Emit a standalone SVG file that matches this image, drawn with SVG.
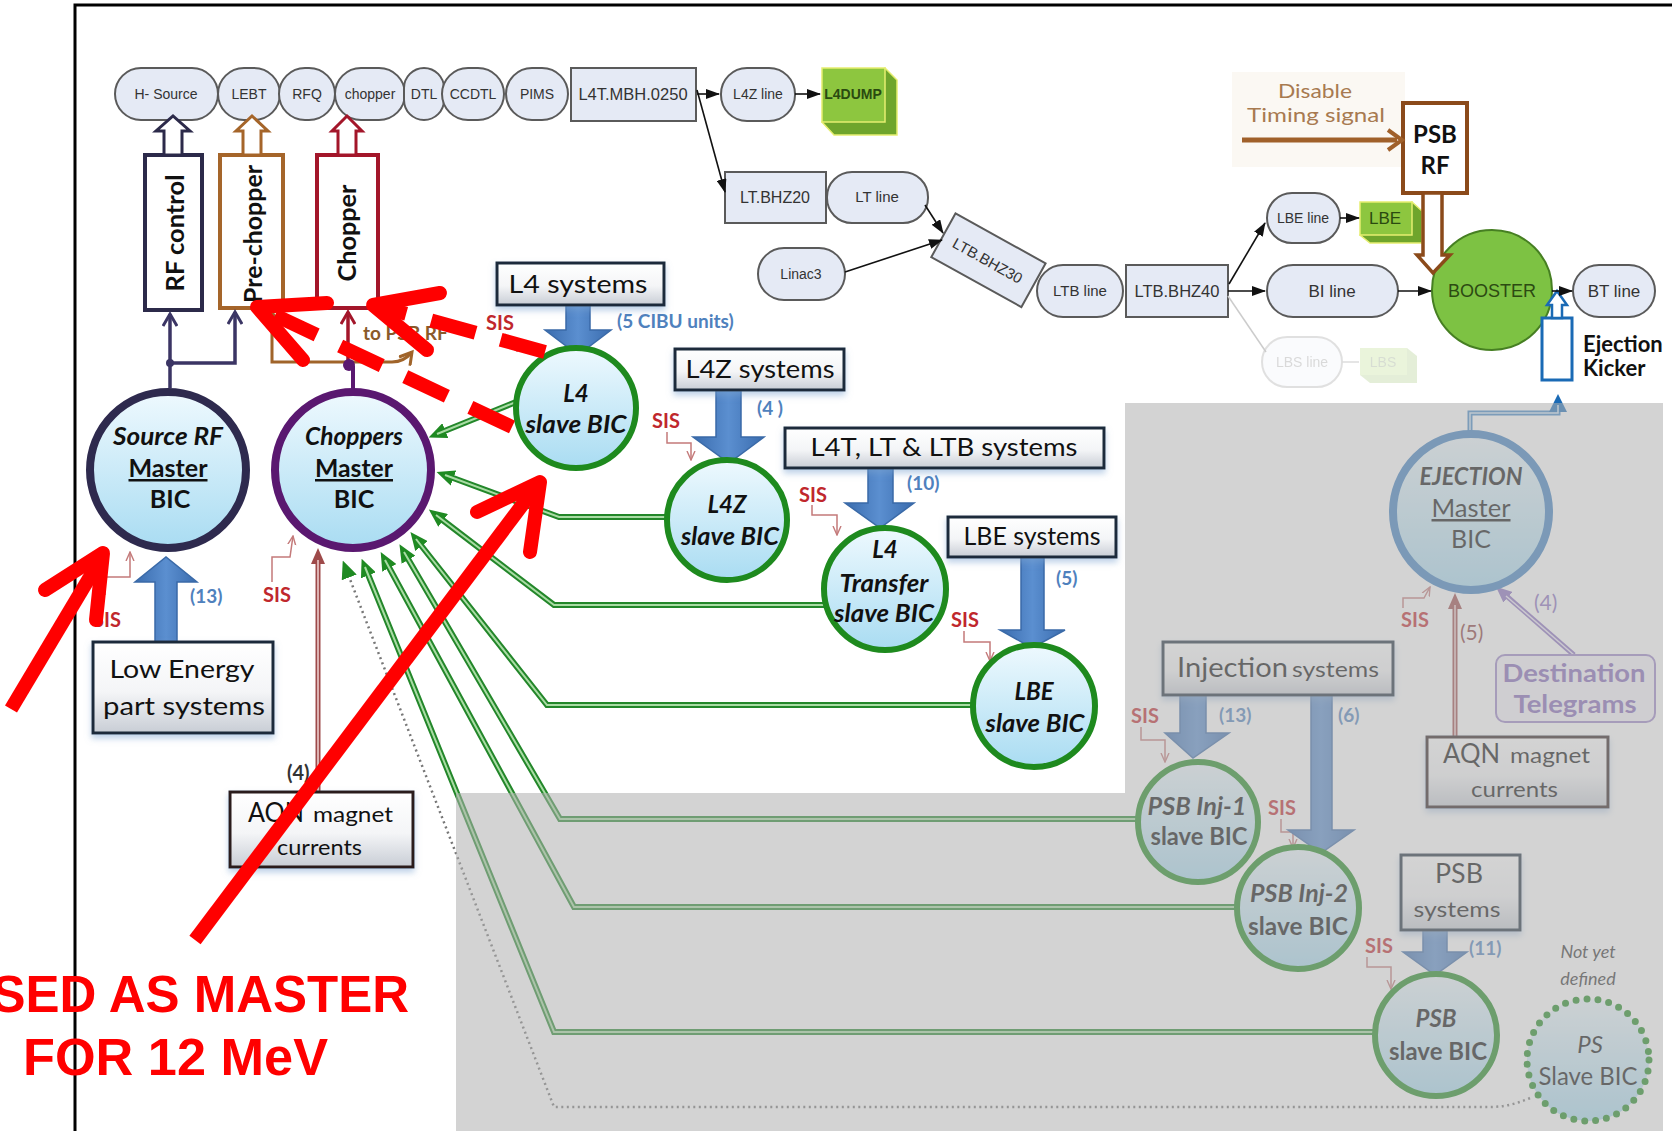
<svg xmlns="http://www.w3.org/2000/svg" width="1672" height="1131" viewBox="0 0 1672 1131">
<defs>
<style>
.pill{fill:#e5eaf5;stroke:#5a5a5a;stroke-width:2}
.top{font-family:"Liberation Sans",Arial,sans-serif;font-size:14px;fill:#333;text-anchor:middle}
.t{font-family:Lato,"Open Sans","Liberation Sans",sans-serif}
.sys{font-family:Lato,"Open Sans",sans-serif;font-size:25px;fill:#111;text-anchor:middle}
.box{fill:url(#gBox);stroke:#1b2a3a;stroke-width:3;filter:url(#sh)}
.bic{font-family:Lato,"Open Sans",sans-serif;font-weight:bold;font-style:italic;font-size:24px;fill:#111;text-anchor:middle}
.bicu{font-family:Lato,"Open Sans",sans-serif;font-weight:bold;font-size:25px;fill:#111;text-anchor:middle}
.slave{fill:url(#gBic);stroke:#1e8a1e;stroke-width:6}
.sis{font-family:Lato,"Open Sans",sans-serif;font-weight:bold;font-size:20px;fill:#c0272d}
.sisl{fill:none;stroke:#c47a7a;stroke-width:1.5;marker-end:url(#mSis)}
.num{font-family:Lato,"Open Sans",sans-serif;font-weight:bold;font-size:19px;fill:#4f81bd}
.bar{fill:url(#gBlue);stroke:#3a6aa8;stroke-width:1.5}
.g1{fill:none;stroke:#23872a;stroke-width:6;marker-end:url(#mGrn)}
.g2{fill:none;stroke:#a9dca4;stroke-width:2}
.blk{fill:none;stroke:#111;stroke-width:1.6;marker-end:url(#mBlk)}
.red{fill:none;stroke:#ff0000;stroke-width:14}
.redh{fill:none;stroke:#ff0000;stroke-width:14;stroke-linecap:round;stroke-linejoin:round}
</style>
<linearGradient id="gBic" x1="0" y1="0" x2="0" y2="1"><stop offset="0" stop-color="#eef9fe"/><stop offset="1" stop-color="#a9dcf2"/></linearGradient>
<linearGradient id="gBox" x1="0" y1="0" x2="0" y2="1"><stop offset="0" stop-color="#ffffff"/><stop offset="0.55" stop-color="#f4f5f7"/><stop offset="1" stop-color="#c8cdd5"/></linearGradient>
<linearGradient id="gBlue" x1="0" y1="0" x2="1" y2="0"><stop offset="0" stop-color="#3a6cae"/><stop offset="0.5" stop-color="#5b8fd0"/><stop offset="1" stop-color="#3a6cae"/></linearGradient>
<filter id="sh" x="-10%" y="-20%" width="120%" height="160%"><feDropShadow dx="0" dy="4" stdDeviation="3" flood-color="#7da3d0" flood-opacity="0.5"/></filter>
<marker id="mBlk" markerUnits="userSpaceOnUse" markerWidth="14" markerHeight="10" refX="13" refY="5" orient="auto"><path d="M0,0 L14,5 L0,10 z" fill="#111"/></marker>
<marker id="mGrn" markerUnits="userSpaceOnUse" markerWidth="18" markerHeight="16" refX="9" refY="8" orient="auto"><path d="M0,0 L18,8 L0,16 z" fill="#1f8a22"/></marker>
<marker id="mSis" markerUnits="userSpaceOnUse" markerWidth="10" markerHeight="10" refX="9" refY="5" orient="auto"><path d="M0,1 L9,5 L0,9" fill="none" stroke="#c47a7a" stroke-width="1.4"/></marker>
<marker id="mNavy" markerUnits="userSpaceOnUse" markerWidth="16" markerHeight="16" refX="13" refY="8" orient="auto"><path d="M1,1 L13,8 L1,15" fill="none" stroke="#3b3564" stroke-width="3"/></marker>
<marker id="mRed" markerUnits="userSpaceOnUse" markerWidth="16" markerHeight="16" refX="13" refY="8" orient="auto"><path d="M1,1 L13,8 L1,15" fill="none" stroke="#a3162a" stroke-width="3"/></marker>
<marker id="mBrn" markerUnits="userSpaceOnUse" markerWidth="16" markerHeight="16" refX="13" refY="8" orient="auto"><path d="M1,1 L13,8 L1,15" fill="none" stroke="#a0642a" stroke-width="3"/></marker>
<marker id="mPnk" markerUnits="userSpaceOnUse" markerWidth="16" markerHeight="14" refX="8" refY="7" orient="auto"><path d="M0,0 L16,7 L0,14 z" fill="#9e4a4a"/></marker>
<marker id="mPur" markerUnits="userSpaceOnUse" markerWidth="16" markerHeight="14" refX="8" refY="7" orient="auto"><path d="M0,0 L16,7 L0,14 z" fill="#8a70c0"/></marker>
<marker id="mBlu" markerUnits="userSpaceOnUse" markerWidth="18" markerHeight="18" refX="9" refY="9" orient="auto"><path d="M0,0 L18,9 L0,18 z" fill="#1a6ab5"/></marker>
</defs>

<rect x="0" y="0" width="1672" height="1131" fill="#ffffff"/>
<path d="M75,1131 V5 H1672" fill="none" stroke="#000" stroke-width="3"/>

<!-- top beamline -->
<g id="n-hsource"><rect class="pill" x="115" y="68" width="103" height="52" rx="26"/><text class="top" x="166" y="99">H- Source</text></g>
<g id="n-lebt"><rect class="pill" x="218" y="68" width="62" height="52" rx="26"/><text class="top" x="249" y="99">LEBT</text></g>
<g id="n-rfq"><rect class="pill" x="279" y="68" width="56" height="52" rx="26"/><text class="top" x="307" y="99">RFQ</text></g>
<g id="n-chopper"><rect class="pill" x="335" y="68" width="70" height="52" rx="26"/><text class="top" x="370" y="99">chopper</text></g>
<g id="n-dtl"><rect class="pill" x="404" y="68" width="40" height="52" rx="20"/><text class="top" x="424" y="99">DTL</text></g>
<g id="n-ccdtl"><rect class="pill" x="442" y="68" width="62" height="52" rx="26"/><text class="top" x="473" y="99">CCDTL</text></g>
<g id="n-pims"><rect class="pill" x="506" y="68" width="62" height="52" rx="26"/><text class="top" x="537" y="99">PIMS</text></g>
<g id="n-l4tmbh"><rect class="pill" x="571" y="68" width="125" height="53" rx="0"/><text class="top" x="633" y="100" style="font-size:16.5px">L4T.MBH.0250</text></g>
<g id="n-l4zline"><rect class="pill" x="721" y="68" width="74" height="53" rx="26"/><text class="top" x="758" y="99">L4Z line</text></g>
<g id="n-l4dump"><path d="M885,68 L897,80 L897,135 L834,135 L822,122 Z" fill="#6fa52c" stroke="#e6ee70" stroke-width="1.5"/><rect x="822" y="68" width="63" height="54" fill="#8dc63f" stroke="#e6ee70" stroke-width="1.5"/><text class="top" x="853" y="99" style="font-weight:bold;fill:#2a4a10">L4DUMP</text></g>
<g id="n-ltbhz20"><rect class="pill" x="725" y="172" width="101" height="51" rx="0"/><text class="top" x="775" y="203" style="font-size:16px">LT.BHZ20</text></g>
<g id="n-ltline"><rect class="pill" x="827" y="172" width="101" height="51" rx="25"/><text class="top" x="877" y="202" style="font-size:15px">LT line</text></g>
<g id="n-linac3"><rect class="pill" x="758" y="248" width="87" height="52" rx="26"/><text class="top" x="801" y="279">Linac3</text></g>
<g id="n-ltbbhz30" transform="translate(988,260) rotate(29)"><rect class="pill" x="-51" y="-25" width="103" height="50" rx="0"/><text class="top" x="0" y="6" style="font-size:15px">LTB.BHZ30</text></g>
<g id="n-ltbline"><rect class="pill" x="1037" y="265" width="86" height="52" rx="26"/><text class="top" x="1080" y="296" style="font-size:15px">LTB line</text></g>
<g id="n-ltbbhz40"><rect class="pill" x="1126" y="265" width="102" height="52" rx="0"/><text class="top" x="1177" y="297" style="font-size:16.5px">LTB.BHZ40</text></g>
<g id="n-lbeline"><rect class="pill" x="1267" y="193" width="73" height="50" rx="25"/><text class="top" x="1303" y="223">LBE line</text></g>
<g id="n-lbe"><path d="M1412,202 L1422,211 L1422,243 L1370,243 L1360,235 Z" fill="#6fa52c" stroke="#e6ee70" stroke-width="1.5"/><rect x="1360" y="202" width="52" height="33" fill="#8dc63f" stroke="#e6ee70" stroke-width="1.5"/><text class="top" x="1385" y="224" style="font-size:17px;fill:#2a4a10">LBE</text></g>
<g id="n-biline"><rect class="pill" x="1267" y="265" width="131" height="52" rx="26"/><text class="top" x="1332" y="297" style="font-size:17px">BI line</text></g>
<g id="n-lbs" opacity="0.18"><rect class="pill" x="1262" y="337" width="80" height="50" rx="25"/><text class="top" x="1302" y="367">LBS line</text><path d="M1407,348 L1417,356 L1417,383 L1370,383 L1360,375 Z" fill="#6fa52c"/><rect x="1360" y="348" width="47" height="27" fill="#8dc63f"/><text class="top" x="1383" y="367" style="fill:#2a4a10">LBS</text></g>
<g id="n-booster"><circle cx="1492" cy="290" r="60" fill="#7dc243" stroke="#467f22" stroke-width="2"/><text class="top" x="1492" y="297" style="font-size:18px;fill:#2c4a12">BOOSTER</text></g>
<g id="n-btline"><rect class="pill" x="1573" y="265" width="82" height="52" rx="26"/><text class="top" x="1614" y="297" style="font-size:17px">BT line</text></g>

<!-- disable timing, PSB RF, ejection kicker -->
<g id="n-disable"><rect x="1232" y="72" width="173" height="95" fill="#fbf8f3"/><text class="t" x="1315" y="98" text-anchor="middle" font-size="20" fill="#a87a50" textLength="74" lengthAdjust="spacingAndGlyphs">Disable</text><text class="t" x="1316" y="122" text-anchor="middle" font-size="20" fill="#a87a50" textLength="138" lengthAdjust="spacingAndGlyphs">Timing signal</text></g>
<g id="n-psbrf"><rect x="1403" y="103" width="64" height="90" fill="#fff" stroke="#8b4a1a" stroke-width="4"/><text class="t" x="1435" y="143" text-anchor="middle" font-size="24" font-weight="bold" fill="#111">PSB</text><text class="t" x="1435" y="174" text-anchor="middle" font-size="24" font-weight="bold" fill="#111">RF</text></g>
<g id="n-kicker"><rect x="1542" y="318" width="30" height="62" fill="#fff" stroke="#1a6ab5" stroke-width="3"/><polygon points="1552,318 1552,305 1547,305 1557,291 1567,305 1562,305 1562,318" fill="#fff" stroke="#1a6ab5" stroke-width="2.5"/><text class="t" x="1583" y="352" font-size="22" font-weight="bold" fill="#111">Ejection</text><text class="t" x="1583" y="376" font-size="22" font-weight="bold" fill="#111">Kicker</text></g>

<!-- left control boxes -->
<g id="n-rfcontrol"><rect x="145" y="155" width="57" height="155" fill="#fff" stroke="#2c2a4a" stroke-width="4"/><text class="t" transform="translate(175,233) rotate(-90)" x="0" y="9" text-anchor="middle" font-size="25" font-weight="bold" fill="#111" textLength="117" lengthAdjust="spacingAndGlyphs">RF control</text></g>
<g id="n-prechopper"><rect x="220" y="155" width="63" height="153" fill="#fff" stroke="#a5652a" stroke-width="4"/><text class="t" transform="translate(253,234) rotate(-90)" x="0" y="9" text-anchor="middle" font-size="25" font-weight="bold" fill="#111" textLength="138" lengthAdjust="spacingAndGlyphs">Pre-chopper</text></g>
<g id="n-chopperbox"><rect x="317" y="155" width="61" height="153" fill="#fff" stroke="#a3162a" stroke-width="4"/><text class="t" transform="translate(347,233) rotate(-90)" x="0" y="9" text-anchor="middle" font-size="25" font-weight="bold" fill="#111" textLength="97" lengthAdjust="spacingAndGlyphs">Chopper</text></g>

<!-- connectors -->
<g id="connectors">
<path class="blk" d="M697,94 H719"/>
<path class="blk" d="M795,94 H820"/>
<path class="blk" d="M697,90 L725,192"/>
<path class="blk" d="M925,205 L943,233"/>
<path class="blk" d="M845,272 L942,240"/>
<path class="blk" d="M1229,284 L1265,223"/>
<path class="blk" d="M1228,291 H1265"/>
<path d="M1228,296 L1266,352" fill="none" stroke="#ccc" stroke-width="1.5"/>
<path class="blk" d="M1340,218 H1359"/>
<path d="M1342,362 H1359" fill="none" stroke="#ddd" stroke-width="1.5"/>
<path class="blk" d="M1398,291 H1431"/>
<path class="blk" d="M1552,291 H1572"/>
<polygon points="164,155 164,131 156,131 173,116 190,131 182,131 182,155" fill="#fff" stroke="#2c2a4a" stroke-width="3"/>
<polygon points="243,155 243,131 236,131 252,116 268,131 261,131 261,155" fill="#fff" stroke="#a5652a" stroke-width="3"/>
<polygon points="338,155 338,131 332,131 347,116 362,131 356,131 356,155" fill="#fff" stroke="#a3162a" stroke-width="3"/>
<polygon points="1423,193 1423,255 1417,255 1433,273 1450,255 1442,255 1442,193" fill="#fff" stroke="#8b4a1a" stroke-width="3.5"/>
<path d="M1242,140 H1397" fill="none" stroke="#a0602a" stroke-width="5"/>
<path d="M1388,130 L1402,140 L1388,150" fill="none" stroke="#a0602a" stroke-width="4"/>
<path d="M170,388 V363 H235 V312" fill="none" stroke="#3b3564" stroke-width="3.5" marker-end="url(#mNavy)"/>
<path d="M170,363 V314" fill="none" stroke="#3b3564" stroke-width="3.5" marker-end="url(#mNavy)"/>
<circle cx="170" cy="363" r="4" fill="#3b3564"/>
<path d="M350,362 H272 V312" fill="none" stroke="#a0642a" stroke-width="3" marker-end="url(#mBrn)"/>
<path d="M350,362 H392 Q404,362 412,352" fill="none" stroke="#a0642a" stroke-width="3" marker-end="url(#mBrn)"/>
<path d="M348,365 V312" fill="none" stroke="#a3162a" stroke-width="3.5" marker-end="url(#mRed)"/>
<path d="M353,390 V366" fill="none" stroke="#5a1870" stroke-width="4"/>
<circle cx="349" cy="365" r="6" fill="#5a1870"/>
<text class="t" x="363" y="340" font-size="19" font-weight="bold" fill="#8a5a2a">to PSB RF</text>
<path class="g1" d="M516,402 L437,434"/><path class="g2" d="M516,402 L437,434"/>
<path class="g1" d="M667,517 H559 L445,475"/><path class="g2" d="M667,517 H559 L445,475"/>
<path class="g1" d="M824,605 H554 L436,515"/><path class="g2" d="M824,605 H554 L436,515"/>
<path class="g1" d="M973,705 H547 L416,539"/><path class="g2" d="M973,705 H547 L416,539"/>
<path class="g1" d="M1138,819 H560 L404,552"/><path class="g2" d="M1138,819 H560 L404,552"/>
<path class="g1" d="M1237,907 H574 L385,560"/><path class="g2" d="M1237,907 H574 L385,560"/>
<path class="g1" d="M1375,1032 H554 L365,567"/><path class="g2" d="M1375,1032 H554 L365,567"/>
<path d="M1530,1098 Q1510,1107 1490,1107 H554 L346,569" fill="none" stroke="#777" stroke-width="2.5" stroke-dasharray="2 3.5" marker-end="url(#mGrn)"/>
<path d="M318,792 V556" fill="none" stroke="#9e4a4a" stroke-width="5" marker-end="url(#mPnk)"/><path d="M318,792 V560" fill="none" stroke="#f1d6d6" stroke-width="1.5"/>
<path d="M1455,737 V601" fill="none" stroke="#9e4a4a" stroke-width="5" marker-end="url(#mPnk)"/><path d="M1455,737 V605" fill="none" stroke="#f1d6d6" stroke-width="1.5"/>
<path d="M1574,655 L1502,592" fill="none" stroke="#8a70c0" stroke-width="5" marker-end="url(#mPur)"/><path d="M1574,655 L1506,596" fill="none" stroke="#ece6f6" stroke-width="1.5"/>
<path d="M1470,436 V413 H1558 V403" fill="none" stroke="#3f86c6" stroke-width="5" marker-end="url(#mBlu)"/><path d="M1470,436 V413 H1558 V405" fill="none" stroke="#cfe3f5" stroke-width="1.5"/>
<path class="sisl" d="M505,334 L517,351"/>
<path class="sisl" d="M667,432 V443 H691 V460"/>
<path class="sisl" d="M812,505 V515 H837 V535"/>
<path class="sisl" d="M964,631 V642 H990 V661"/>
<path class="sisl" d="M105,595 V577 H130 V552"/>
<path class="sisl" d="M272,582 V557 H290 L293,536"/>
<path class="sisl" d="M1403,608 V598 H1424 L1430,587"/>
<path class="sisl" d="M1141,727 V740 H1165 V762"/>
<path class="sisl" d="M1281,819 V832 H1293 V848"/>
<path class="sisl" d="M1367,957 V967 H1391 V989"/>
<polygon class="bar" points="566,305 590,305 590,330 611,330 578,355 545,330 566,330"/>
<polygon class="bar" points="716,390 741,390 741,437 764,437 729,463 693,437 716,437"/>
<polygon class="bar" points="868,468 893,468 893,503 914,503 880,528 845,503 868,503"/>
<polygon class="bar" points="1021,557 1044,557 1044,630 1065,630 1032,648 1000,630 1021,630"/>
<polygon class="bar" points="155,642 177,642 177,582 197,582 166,557 135,582 155,582"/>
<polygon class="bar" points="1180,695 1206,695 1206,733 1229,733 1193,758 1165,733 1180,733"/>
<polygon class="bar" points="1311,695 1332,695 1332,830 1354,830 1321,853 1288,830 1311,830"/>
<polygon class="bar" points="1423,930 1447,930 1447,952 1467,952 1435,975 1403,952 1423,952"/>
</g>

<!-- system boxes -->
<g id="n-l4sys"><rect class="box" x="497" y="263" width="167" height="42"/><text class="sys" x="578" y="293" textLength="139" lengthAdjust="spacingAndGlyphs">L4 systems</text></g>
<g id="n-l4zsys"><rect class="box" x="675" y="349" width="169" height="41"/><text class="sys" x="760" y="378" textLength="149" lengthAdjust="spacingAndGlyphs">L4Z systems</text></g>
<g id="n-l4tsys"><rect class="box" x="785" y="428" width="319" height="40"/><text class="sys" x="944" y="456" textLength="267" lengthAdjust="spacingAndGlyphs">L4T, LT &amp; LTB systems</text></g>
<g id="n-lbesys"><rect class="box" x="948" y="517" width="168" height="40"/><text class="sys" x="1032" y="545" textLength="137" lengthAdjust="spacingAndGlyphs">LBE systems</text></g>
<g id="n-lowenergy"><rect class="box" x="93" y="642" width="180" height="91"/><text class="sys" x="182" y="678" textLength="145" lengthAdjust="spacingAndGlyphs">Low Energy</text><text class="sys" x="184" y="715" textLength="162" lengthAdjust="spacingAndGlyphs">part systems</text></g>
<g id="n-aqnleft"><rect class="box" x="230" y="792" width="183" height="75" style="stroke:#2a1a1a"/><text class="t" x="248" y="822" font-size="26" fill="#111" textLength="56" lengthAdjust="spacingAndGlyphs">AQN</text><text class="t" x="313" y="822" font-size="21" fill="#111" textLength="80" lengthAdjust="spacingAndGlyphs">magnet</text><text class="t" x="277" y="855" font-size="21" fill="#111" textLength="85" lengthAdjust="spacingAndGlyphs">currents</text></g>
<g id="n-aqnright"><rect class="box" x="1427" y="737" width="181" height="70" style="stroke:#2a1a1a"/><text class="t" x="1443" y="763" font-size="26" fill="#111" textLength="57" lengthAdjust="spacingAndGlyphs">AQN</text><text class="t" x="1510" y="763" font-size="21" fill="#111" textLength="80" lengthAdjust="spacingAndGlyphs">magnet</text><text class="t" x="1471" y="797" font-size="21" fill="#111" textLength="87" lengthAdjust="spacingAndGlyphs">currents</text></g>
<g id="n-injsys"><rect class="box" x="1163" y="642" width="230" height="53"/><text class="t" x="1177" y="677" font-size="27" fill="#111" textLength="111" lengthAdjust="spacingAndGlyphs">Injection</text><text class="t" x="1292" y="677" font-size="21" fill="#111" textLength="87" lengthAdjust="spacingAndGlyphs">systems</text></g>
<g id="n-psbsys"><rect class="box" x="1401" y="855" width="119" height="75"/><text class="t" x="1459" y="883" text-anchor="middle" font-size="26" fill="#111" textLength="48" lengthAdjust="spacingAndGlyphs">PSB</text><text class="t" x="1457" y="917" text-anchor="middle" font-size="21" fill="#111" textLength="87" lengthAdjust="spacingAndGlyphs">systems</text></g>
<g id="n-dest"><rect x="1496" y="655" width="159" height="67" rx="9" fill="#f6f3fb" stroke="#9b85c8" stroke-width="2"/><text class="t" x="1574" y="682" text-anchor="middle" font-size="24" font-weight="bold" fill="#8466b8" textLength="143" lengthAdjust="spacingAndGlyphs">Destination</text><text class="t" x="1575" y="713" text-anchor="middle" font-size="24" font-weight="bold" fill="#8466b8" textLength="123" lengthAdjust="spacingAndGlyphs">Telegrams</text></g>

<!-- masters -->
<g id="n-sourcerf"><circle cx="168" cy="470" r="78" fill="url(#gBic)" stroke="#2e2a4e" stroke-width="8"/><text class="bic" x="168" y="445" textLength="110" lengthAdjust="spacingAndGlyphs">Source RF</text><text class="bicu" x="168" y="477" text-decoration="underline" textLength="79" lengthAdjust="spacingAndGlyphs">Master</text><text class="bicu" x="170" y="508">BIC</text></g>
<g id="n-choppers"><circle cx="353" cy="470" r="78" fill="url(#gBic)" stroke="#5a1870" stroke-width="8"/><text class="bic" x="354" y="445" textLength="98" lengthAdjust="spacingAndGlyphs">Choppers</text><text class="bicu" x="354" y="477" text-decoration="underline" textLength="78" lengthAdjust="spacingAndGlyphs">Master</text><text class="bicu" x="354" y="508">BIC</text></g>
<g id="n-ejection"><circle cx="1471" cy="512" r="78" fill="url(#gBic)" stroke="#3c7fc0" stroke-width="8"/><text class="bic" x="1471" y="485" textLength="103" lengthAdjust="spacingAndGlyphs">EJECTION</text><text class="bicu" x="1471" y="517" text-decoration="underline" textLength="79" lengthAdjust="spacingAndGlyphs" style="font-weight:normal">Master</text><text class="bicu" x="1471" y="548" style="font-weight:normal">BIC</text></g>

<!-- slaves -->
<g id="n-l4slave"><circle class="slave" cx="576" cy="408" r="60"/><text class="bic" x="576" y="402">L4</text><text class="bic" x="576" y="433" textLength="101" lengthAdjust="spacingAndGlyphs">slave BIC</text></g>
<g id="n-l4zslave"><circle class="slave" cx="727" cy="520" r="60"/><text class="bic" x="727" y="513">L4Z</text><text class="bic" x="730" y="545" textLength="98" lengthAdjust="spacingAndGlyphs">slave BIC</text></g>
<g id="n-l4tslave"><circle class="slave" cx="885" cy="589" r="61"/><text class="bic" x="885" y="558">L4</text><text class="bic" x="884" y="592" textLength="89" lengthAdjust="spacingAndGlyphs">Transfer</text><text class="bic" x="884" y="622" textLength="100" lengthAdjust="spacingAndGlyphs">slave BIC</text></g>
<g id="n-lbeslave"><circle class="slave" cx="1034" cy="706" r="61"/><text class="bic" x="1034" y="700">LBE</text><text class="bic" x="1035" y="732" textLength="99" lengthAdjust="spacingAndGlyphs">slave BIC</text></g>
<g id="n-inj1"><circle class="slave" cx="1198" cy="822" r="60"/><text class="bic" x="1197" y="815" textLength="99" lengthAdjust="spacingAndGlyphs">PSB Inj-1</text><text class="bicu" x="1199" y="845" textLength="97" lengthAdjust="spacingAndGlyphs">slave BIC</text></g>
<g id="n-inj2"><circle class="slave" cx="1298" cy="908" r="61"/><text class="bic" x="1299" y="902" textLength="98" lengthAdjust="spacingAndGlyphs">PSB Inj-2</text><text class="bicu" x="1298" y="935" textLength="100" lengthAdjust="spacingAndGlyphs">slave BIC</text></g>
<g id="n-psbslave"><circle class="slave" cx="1436" cy="1035" r="61"/><text class="bic" x="1436" y="1027">PSB</text><text class="bicu" x="1438" y="1060" textLength="98" lengthAdjust="spacingAndGlyphs">slave BIC</text></g>
<g id="n-psslave"><circle cx="1588" cy="1060" r="61" fill="url(#gBic)" stroke="#1e8a1e" stroke-width="7" stroke-dasharray="0 11" stroke-linecap="round"/><text class="bic" x="1590" y="1053" style="font-weight:normal">PS</text><text class="bicu" x="1588" y="1085" style="font-weight:normal" textLength="99" lengthAdjust="spacingAndGlyphs">Slave BIC</text><text class="t" x="1588" y="958" text-anchor="middle" font-size="18" font-style="italic" fill="#333">Not yet</text><text class="t" x="1588" y="985" text-anchor="middle" font-size="18" font-style="italic" fill="#333">defined</text></g>

<!-- labels -->
<g id="labels">
<text class="sis" x="486" y="330">SIS</text>
<text class="sis" x="652" y="428">SIS</text>
<text class="sis" x="799" y="502">SIS</text>
<text class="sis" x="951" y="627">SIS</text>
<text class="sis" x="93" y="627">SIS</text>
<text class="sis" x="263" y="602">SIS</text>
<text class="sis" x="1401" y="627">SIS</text>
<text class="sis" x="1131" y="723">SIS</text>
<text class="sis" x="1268" y="815">SIS</text>
<text class="sis" x="1365" y="953">SIS</text>
<text class="num" x="617" y="328" font-size="17">(5 CIBU  units)</text>
<text class="num" x="757" y="415">(4 )</text>
<text class="num" x="907" y="490">(10)</text>
<text class="num" x="1056" y="585">(5)</text>
<text class="num" x="190" y="603">(13)</text>
<text class="num" x="1219" y="722">(13)</text>
<text class="num" x="1338" y="722">(6)</text>
<text class="num" x="1469" y="955">(11)</text>
<text class="t" x="287" y="780" font-size="20" font-weight="bold" fill="#333">(4)</text>
<text class="t" x="1460" y="640" font-size="21" fill="#8a3a3a">(5)</text>
<text class="t" x="1534" y="610" font-size="21" fill="#8a70c0">(4)</text>
</g>

<!-- grey (not yet used) region -->
<polygon id="greyzone" points="1125,403 1663,403 1663,1131 456,1131 456,793 1125,793" fill="#aeaeae" opacity="0.55"/>

<!-- red annotation -->
<g id="annotation">
<path class="red" d="M545,352 L382,307" stroke-dasharray="46 26"/>
<path class="redh" d="M440,293 L373,305 L427,350"/>
<path class="red" d="M512,427 L266,311" stroke-dasharray="46 26"/>
<path class="redh" d="M327,303 L257,307 L303,360"/>
<path class="red" d="M11,709 L100,560"/>
<path class="redh" d="M45,590 L103,553 L96,620"/>
<path class="red" d="M195,940 L535,488"/>
<path class="redh" d="M477,512 L540,482 L530,552"/>
<text x="409" y="1012" text-anchor="end" font-family="Liberation Sans, Arial, sans-serif" font-weight="bold" font-size="51" fill="#ff0000">SED AS MASTER</text>
<text x="23" y="1075" font-family="Liberation Sans, Arial, sans-serif" font-weight="bold" font-size="51" fill="#ff0000" textLength="305" lengthAdjust="spacingAndGlyphs">FOR 12 MeV</text>
</g>
</svg>
